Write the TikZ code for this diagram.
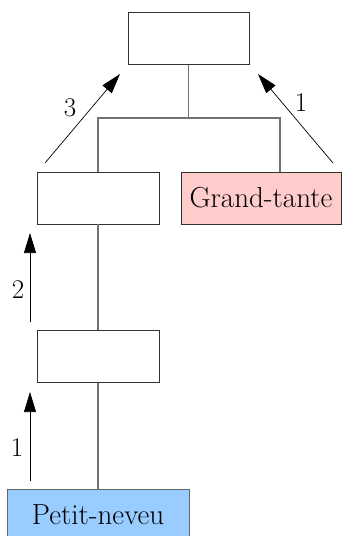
\documentclass[tikz,border=0pt]{standalone}
\usetikzlibrary{arrows.meta}
\definecolor{tantepink}{RGB}{255,204,204}
\definecolor{neveublue}{RGB}{153,204,255}
\tikzset{
  famille/.style={draw=black!80, line width=0.8pt, minimum width=#1, minimum height=52pt, inner sep=0pt, font=\fontsize{29}{34}\selectfont},
  famille/.default=122pt,
  lien/.style={draw=black!55, line width=1.2pt},
  degre/.style={draw=black, line width=0.7pt, -{Triangle[width=12pt,length=20pt]}},
  chiffre/.style={font=\fontsize{27}{32}\selectfont, inner sep=0pt}
}
\begin{document}
\begin{tikzpicture}[x=1pt,y=-1pt]
            \useasboundingbox (0,0) rectangle (342,536);
            \node[famille=121pt] (ancetre) at (188.5,38.5) {};
            \node[famille] (grandpere) at (98,198) {};
            \node[famille=160pt, fill=tantepink] (tante) at (261,198) {Grand-tante};
            \node[famille] (pere) at (98,356.5) {};
            \node[famille=182pt, fill=neveublue, draw=black!60] (neveu) at (98,515) {Petit-neveu};
            % liens de parente
            \coordinate (jg) at (98,118);
            \coordinate (jd) at (280,118);
            \draw[lien] (ancetre.south) -- (ancetre.south |- jg);
            \draw[lien] (grandpere.north) |- (jd) -- (jd |- tante.north);
            \draw[lien] (grandpere.south) -- (pere.north);
            \draw[lien] (pere.south) -- (neveu.north);
            % degres
            \coordinate (m0) at (30,481);
            \coordinate (m1) at (30,392);
            \coordinate (m2) at (30,322);
            \coordinate (m3) at (30,233);
            \coordinate (g1) at (45,163);
            \coordinate (g2) at (120,74);
            \coordinate (t1) at (333,163);
            \coordinate (t2) at (258,74);
            \draw[degre] (m0) -- (m1);
            \draw[degre] (m2) -- (m3);
            \draw[degre] (g1) -- (g2);
            \draw[degre] (t1) -- (t2);
            \node[chiffre] (n1) at (17,448) {1};
            \node[chiffre] (n2) at (18,290) {2};
            \node[chiffre] (n3) at (70,108) {3};
            \node[chiffre] (n4) at (301,103) {1};
        \end{tikzpicture}
\end{document}
